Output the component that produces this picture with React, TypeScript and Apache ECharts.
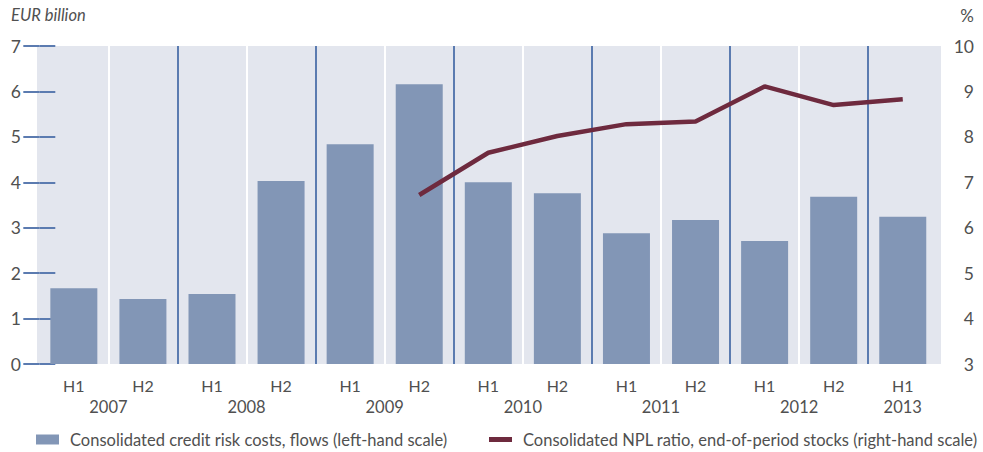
import React, { useEffect, useRef } from "react";
import * as echarts from "echarts";

const halfYears = ["H1", "H2", "H1", "H2", "H1", "H2", "H1", "H2", "H1", "H2", "H1", "H2", "H1"];
// year labels on a half-category grid (27 positions, boundaryGap false)
const yearLabels = [
  "", "", "2007", "", "", "", "2008", "", "", "", "2009", "", "", "", "2010", "", "", "", "2011", "", "", "", "2012", "", "", "2013", "",
];
const creditRiskCosts = [1.67, 1.43, 1.54, 4.03, 4.84, 6.16, 4.0, 3.76, 2.88, 3.17, 2.71, 3.68, 3.24];
const nplRatio: (number | null)[] = [null, null, null, null, null, 6.72, 7.65, 8.02, 8.28, 8.34, 9.11, 8.7, 8.83];
const leftTicks = { min: 0, max: 7, interval: 1 };
const rightTicks = { min: 3, max: 10, interval: 1 };

const barName = "Consolidated credit risk costs, flows (left-hand scale)";
const lineName = "Consolidated NPL ratio, end-of-period stocks (right-hand scale)";

const FONT = "Lato";
const TEXT = "#505050";
const BLUE = "#5b7bb0";
const BG = "#e3e6ee";

export default function App() {
  const ref = useRef<HTMLDivElement>(null);
  useEffect(() => {
    if (!ref.current) return;
    const chart = echarts.init(ref.current, undefined, { renderer: "svg" });
    const gridLeft = 39.3;
    const gridRight = 45.7;
    chart.setOption({
      animation: false,
      textStyle: { fontFamily: FONT },
      grid: [
        { left: gridLeft, right: gridRight, top: 46, bottom: 88 },
        { left: 37, right: 42, top: 46, bottom: 88, show: true, backgroundColor: BG, borderWidth: 0 },
      ],
      graphic: [
        {
          type: "text",
          left: 11,
          top: 6,
          style: { text: "EUR billion", fontFamily: FONT, fontSize: 16.5, fontStyle: "italic", fill: TEXT },
        },
        {
          type: "text",
          right: 9,
          top: 7,
          style: { text: "%", fontFamily: FONT, fontSize: 17, fill: TEXT },
        },
      ],
      legend: [
        {
          data: [{ name: barName, icon: "rect" }],
          left: 36,
          top: 431,
          padding: 0,
          itemWidth: 23,
          itemHeight: 10,
          textStyle: { fontFamily: FONT, fontSize: 16.5, color: TEXT, padding: [0, 0, 0, 6] },
        },
        {
          data: [{ name: lineName, icon: "rect" }],
          left: 489,
          top: 431,
          padding: 0,
          itemWidth: 23,
          itemHeight: 5,
          textStyle: { fontFamily: FONT, fontSize: 16.5, color: TEXT, padding: [0, 0, 0, 6] },
        },
      ],
      xAxis: [
        {
          type: "category",
          gridIndex: 0,
          data: halfYears,
          position: "bottom",
          axisLine: { show: false },
          axisTick: { show: false },
          splitLine: { show: false },
          axisLabel: { color: TEXT, fontSize: 16, fontFamily: FONT, margin: 13, interval: 0 },
        },
        {
          type: "category",
          gridIndex: 0,
          data: yearLabels,
          boundaryGap: false,
          position: "bottom",
          offset: 21,
          axisLine: { show: false },
          axisTick: { show: false },
          splitLine: { show: false },
          axisLabel: { color: TEXT, fontSize: 16.5, fontFamily: FONT, margin: 13, interval: 0 },
        },
        {
          type: "value",
          gridIndex: 0,
          min: 0,
          max: 13,
          interval: 1,
          axisLine: { show: false },
          axisTick: { show: false },
          axisLabel: { show: false },
          splitLine: { show: true, showMinLine: false, showMaxLine: false, lineStyle: { color: "#ffffff", width: 2 } },
        },
        {
          type: "value",
          gridIndex: 0,
          min: 0,
          max: 13,
          interval: 2,
          axisLine: { show: false },
          axisTick: { show: false },
          axisLabel: { show: false },
          splitLine: { show: true, showMinLine: false, showMaxLine: false, lineStyle: { color: BLUE, width: 2 } },
        },
      ],
      yAxis: [
        {
          type: "value",
          gridIndex: 0,
          position: "left",
          offset: 2.3,
          ...leftTicks,
          axisLine: { show: false },
          axisTick: { show: true, inside: true, length: 16, lineStyle: { color: BLUE, width: 2 } },
          splitLine: { show: false },
          axisLabel: { color: TEXT, fontSize: 17.5, fontFamily: FONT, margin: 16 },
        },
        {
          type: "value",
          gridIndex: 0,
          position: "right",
          offset: 3.7,
          ...rightTicks,
          axisLine: { show: false },
          axisTick: { show: true, inside: true, length: 16, lineStyle: { color: BLUE, width: 2 } },
          splitLine: { show: false },
          axisLabel: { color: TEXT, fontSize: 17.5, fontFamily: FONT, margin: 33, align: "right" },
        },
      ],
      series: [
        {
          name: barName,
          type: "bar",
          xAxisIndex: 0,
          yAxisIndex: 0,
          data: creditRiskCosts,
          barWidth: 47,
          itemStyle: { color: "#8296b6" },
        },
        {
          name: lineName,
          type: "line",
          xAxisIndex: 0,
          yAxisIndex: 1,
          data: nplRatio,
          symbol: "none",
          lineStyle: { color: "#6e2a3e", width: 4.5 },
          itemStyle: { color: "#6e2a3e" },
          z: 5,
        },
      ],
    });
    return () => chart.dispose();
  }, []);
  return <div ref={ref} style={{ width: 983, height: 452, position: "absolute", left: 0, top: 0 }} />;
}
